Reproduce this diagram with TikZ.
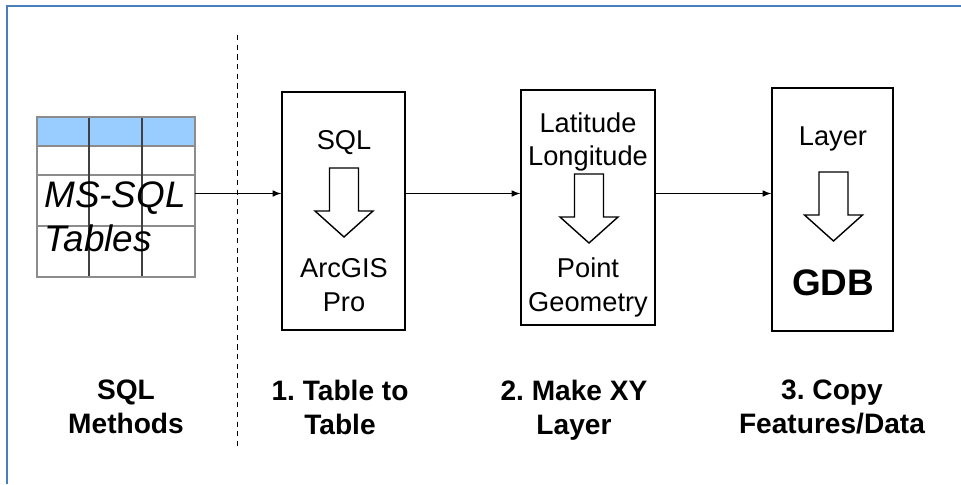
\documentclass[tikz,border=0pt]{standalone}
\usepackage{fontspec}
\setmainfont{Liberation Sans}
\usepackage{tikz}
\usetikzlibrary{arrows,positioning,calc}
\definecolor{bordbleu}{HTML}{4A7EBB}
\definecolor{entete}{HTML}{99CCFF}
\frenchspacing

\begin{document}
\begin{tikzpicture}[x=0.02cm,y=-0.02cm]
\tikzstyle{fleche}=[->,>=latex,line width=0.7pt]
\tikzstyle{boite}=[draw,line width=0.8pt,inner sep=0]
\tikzstyle{creuse}=[draw,line width=0.8pt,fill=white]
\tikzstyle{grille}=[draw=black!45,line width=0.6pt]
\tikzstyle{texte}=[inner sep=0,anchor=north,align=center,font=\fontsize{15.5}{19.3}\selectfont]
\tikzstyle{titre}=[inner sep=0,anchor=north,align=center,font=\bfseries\fontsize{16}{19.3}\selectfont]
\def\FlecheCreuse#1#2{\draw[creuse] ({#1-14.5},#2) -- ({#1+14.5},#2) -- ({#1+14.5},{#2+43}) -- ({#1+29},{#2+43}) -- (#1,{#2+69}) -- ({#1-29},{#2+43}) -- ({#1-14.5},{#2+43}) -- cycle;}
\useasboundingbox (0,0) rectangle (961,484);
% cadre
\draw[bordbleu,line width=1.2pt] (7,484) -- (7,6) -- (961,6);
% separation
\draw[dashed,dash pattern=on 3pt off 2.5pt,line width=0.5pt] (237,35) -- (237,450);
% table MS-SQL
\fill[entete] (37,117) rectangle (195,146);
\foreach \y in {146,175,226} \draw[grille] (37,\y) -- (195,\y);
\foreach \x in {89,142} \draw[grille,draw=black!75] (\x,117) -- (\x,277);
\draw[grille] (37,117) rectangle (195,277);
\coordinate (table) at (195,193.5);
\node[anchor=north west,inner sep=0,align=left,font=\itshape\fontsize{21}{25}\selectfont] (mssql) at (44,181) {MS-SQL\\Tables};
% boites
\node[boite,minimum width=2.46cm,minimum height=4.76cm] (b1) at (343.5,211) {};
\node[boite,minimum width=2.68cm,minimum height=4.70cm] (b2) at (588,207.5) {};
\node[boite,minimum width=2.42cm,minimum height=4.86cm] (b3) at (832.5,209.5) {};
\FlecheCreuse{344}{168}
\FlecheCreuse{589}{174}
\FlecheCreuse{833.5}{172}
\node[texte] (sql) at (344,130) {SQL};
\node[texte] (arcgis) at (344,258) {ArcGIS\\Pro};
\node[texte] (latlon) at (588,112) {Latitude\\Longitude};
\node[texte] (point) at (588,257) {Point\\Geometry};
\node[texte] (layer) at (833,126) {Layer};
\node[texte,font=\bfseries\fontsize{21}{25}\selectfont] (gdb) at (833,269) {GDB};
% etapes
\node[titre] (t0) at (126,380) {SQL\\Methods};
\node[titre] (t1) at (340,380) {1. Table to\\Table};
\node[titre] (t2) at (574,380) {2. Make XY\\Layer};
\node[titre] (t3) at (832,380) {3. Copy\\Features/Data};
% liens
\draw[fleche] (table) -- (b1.west |- table);
\draw[fleche] (b1.east |- table) -- (b2.west |- table);
\draw[fleche] (b2.east |- table) -- (b3.west |- table);
\end{tikzpicture}
\end{document}
